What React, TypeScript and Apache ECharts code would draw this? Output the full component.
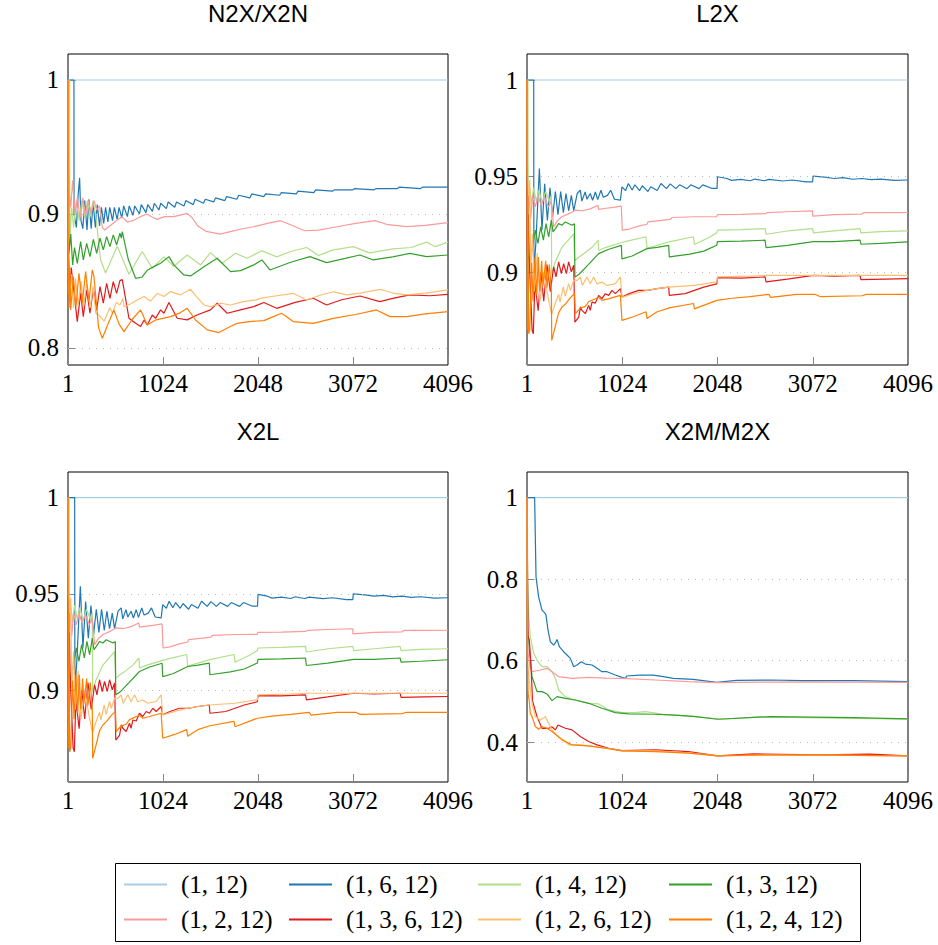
import React, { useEffect, useRef } from "react";
import * as echarts from "echarts";

// ---------- labels ----------
const SERIES_NAMES = ["(1, 12)", "(1, 6, 12)", "(1, 4, 12)", "(1, 3, 12)", "(1, 2, 12)", "(1, 3, 6, 12)", "(1, 2, 6, 12)", "(1, 2, 4, 12)"];
const COLORS = ["#a6cee3", "#1f78b4", "#b2df8a", "#33a02c", "#fb9a99", "#e31a1c", "#fdbf6f", "#ff7f00"];
const PANEL_TITLES = ["N2X/X2N", "L2X", "X2L", "X2M/M2X"];
const X_TICK_VALUES = [0, 1024, 2048, 3072, 4096];
const Y_TICKS_N2X = [0.8, 0.9, 1];
const Y_TICKS_L2X = [0.9, 0.95, 1];
const Y_TICKS_X2L = [0.9, 0.95, 1];
const Y_TICKS_X2M = [0.4, 0.6, 0.8, 1];

// ---------- N2X/X2N ----------
const n2x_1_12 = [[1, 1], [4096, 1]];
const n2x_1_6_12 = [[1,1],[64,1],[65,0.90],[90,0.89],[110,0.915],[125,0.927],[140,0.895],[160,0.889],[180,0.91],[205,0.888],[225,0.911],[250,0.889],[270,0.909],[295,0.89],[315,0.907],[340,0.891],[360,0.905],[385,0.893],[405,0.905],[430,0.894],[450,0.905],[480,0.895],[500,0.905],[530,0.896],[550,0.905],[580,0.897],[600,0.906],[640,0.898],[660,0.906],[700,0.899],[720,0.906],[770,0.9],[790,0.907],[840,0.901],[860,0.907],[910,0.902],[930,0.908],[980,0.903],[1000,0.908],[1060,0.904],[1080,0.909],[1150,0.905],[1170,0.909],[1250,0.906],[1270,0.91],[1350,0.907],[1370,0.911],[1460,0.908],[1480,0.911],[1570,0.909],[1590,0.912],[1690,0.91],[1710,0.913],[1820,0.911],[1840,0.914],[1960,0.912],[1980,0.915],[2110,0.913],[2130,0.915],[2280,0.914],[2300,0.916],[2460,0.915],[2480,0.917],[2650,0.916],[2670,0.918],[2850,0.917],[2870,0.918],[3070,0.918],[3090,0.919],[3300,0.918],[3320,0.919],[3550,0.919],[3570,0.92],[3800,0.919],[3820,0.92],[4096,0.92]];
const n2x_1_4_12 = [[1,1],[18,1],[20,0.88],[40,0.905],[60,0.89],[90,0.91],[120,0.895],[150,0.91],[180,0.897],[210,0.91],[240,0.898],[270,0.91],[298,0.9],[350,0.866],[405,0.856],[531,0.876],[657,0.855],[800,0.872],[908,0.8595],[1034,0.868],[1141,0.861],[1285,0.8694],[1430,0.862],[1536,0.8712],[1660,0.8632],[1806,0.8707],[1931,0.867],[2090,0.8725],[2250,0.868],[2400,0.872],[2572,0.875],[2700,0.869],[2850,0.873],[3075,0.8756],[3250,0.871],[3506,0.874],[3700,0.875],[3865,0.879],[3960,0.8756],[4096,0.879]];
const n2x_1_3_12 = [[1,1],[10,0.87],[30,0.885],[50,0.862],[70,0.875],[100,0.8632],[136,0.8794],[165,0.8657],[201,0.8781],[237,0.8682],[273,0.881],[309,0.8707],[345,0.8819],[381,0.8732],[416,0.8831],[452,0.8757],[488,0.8844],[524,0.8769],[560,0.8856],[575,0.882],[585,0.8869],[650,0.866],[729,0.852],[800,0.853],[854,0.858],[926,0.8607],[998,0.8632],[1088,0.8682],[1141,0.862],[1249,0.8545],[1321,0.8538],[1465,0.8607],[1608,0.867],[1752,0.857],[1860,0.8577],[2003,0.862],[2090,0.8657],[2177,0.8582],[2400,0.864],[2608,0.8682],[2787,0.8637],[3000,0.867],[3147,0.8694],[3290,0.8657],[3500,0.868],[3685,0.8706],[3865,0.8682],[4096,0.8694]];
const n2x_1_2_12 = [[1,1],[8,0.92],[30,0.905],[50,0.925],[75,0.9],[100,0.912],[130,0.897],[160,0.912],[190,0.899],[220,0.91],[250,0.9],[280,0.91],[310,0.903],[340,0.906],[370,0.89],[395,0.888],[450,0.891],[520,0.895],[580,0.898],[640,0.894],[700,0.895],[780,0.898],[850,0.9],[900,0.898],[960,0.896],[1040,0.898],[1140,0.898],[1200,0.899],[1285,0.9005],[1340,0.897],[1400,0.891],[1490,0.887],[1640,0.885],[1760,0.887],[1880,0.889],[2000,0.8905],[2150,0.893],[2290,0.895],[2400,0.892],[2550,0.8875],[2700,0.888],[2900,0.8905],[3100,0.893],[3310,0.895],[3450,0.892],[3650,0.8905],[3850,0.8915],[4096,0.8935]];
const n2x_1_3_6_12 = [[1,1],[5,0.87],[20,0.84],[35,0.86],[100,0.8197],[136,0.8408],[165,0.8234],[201,0.8433],[237,0.8259],[273,0.8446],[309,0.8284],[345,0.8458],[381,0.8334],[416,0.8483],[452,0.837],[488,0.8495],[524,0.8408],[560,0.8503],[585,0.851],[657,0.8222],[729,0.8184],[783,0.816],[820,0.8209],[855,0.8172],[908,0.8246],[945,0.8222],[998,0.8284],[1034,0.8259],[1088,0.8339],[1177,0.8222],[1285,0.821],[1390,0.8246],[1536,0.8284],[1608,0.8334],[1716,0.8259],[1860,0.8284],[2003,0.8309],[2111,0.8339],[2249,0.8296],[2450,0.834],[2644,0.8371],[2787,0.8321],[2950,0.836],[3147,0.8388],[3362,0.8346],[3500,0.837],[3685,0.8396],[3900,0.839],[4096,0.84]];
const n2x_1_2_6_12 = [[1,1],[5,0.86],[20,0.84],[40,0.855],[60,0.83],[80,0.852],[110,0.832],[140,0.85],[170,0.831],[200,0.848],[240,0.83],[270,0.846],[300,0.826],[340,0.824],[390,0.82],[420,0.825],[450,0.83],[480,0.826],[520,0.834],[560,0.832],[590,0.837],[603,0.831],[680,0.833],[750,0.836],[819,0.8384],[890,0.835],[962,0.8408],[1034,0.8384],[1106,0.8421],[1210,0.8396],[1321,0.8438],[1390,0.838],[1465,0.8321],[1540,0.8309],[1650,0.8334],[1750,0.8321],[1890,0.8346],[2030,0.8359],[2069,0.837],[2250,0.839],[2428,0.8408],[2572,0.8358],[2700,0.839],[2859,0.842],[3000,0.8396],[3150,0.841],[3362,0.8438],[3500,0.841],[3650,0.8396],[3850,0.841],[4096,0.8433]];
const n2x_1_2_4_12 = [[1,1],[3,0.84],[8,0.87],[12,0.83],[18,0.86],[29,0.8284],[57,0.8533],[86,0.8309],[118,0.8558],[154,0.8334],[190,0.857],[226,0.835],[262,0.8582],[280,0.8533],[330,0.815],[370,0.8073],[420,0.816],[495,0.8284],[550,0.818],[603,0.8122],[700,0.822],[783,0.8284],[854,0.8172],[950,0.821],[1106,0.8234],[1200,0.826],[1285,0.8296],[1375,0.8209],[1501,0.8135],[1626,0.8115],[1750,0.816],[1824,0.8184],[1950,0.8197],[2111,0.8204],[2200,0.823],[2302,0.8259],[2428,0.8197],[2644,0.8184],[2859,0.8221],[3100,0.825],[3326,0.8284],[3470,0.8234],[3650,0.8234],[3850,0.8254],[4096,0.8271]];

// ---------- L2X ----------
const l2x_1_12 = [[1, 1], [4096, 1]];
const l2x_1_6_12 = [[1,1],[72,1],[74,0.90],[95,0.915],[133,0.954],[161,0.922],[190,0.946],[219,0.927],[247,0.944],[276,0.929],[305,0.942],[333,0.93],[362,0.942],[391,0.931],[419,0.941],[448,0.932],[477,0.94],[502,0.932],[540,0.941],[573,0.9427],[590,0.937],[625,0.9418],[645,0.938],[680,0.941],[705,0.9375],[735,0.9418],[760,0.9378],[795,0.9427],[820,0.939],[865,0.94],[900,0.9427],[940,0.938],[1004,0.9375],[1021,0.9444],[1060,0.9425],[1090,0.9462],[1130,0.9428],[1160,0.9455],[1210,0.9425],[1240,0.945],[1300,0.942],[1330,0.9445],[1400,0.9425],[1440,0.9462],[1500,0.9435],[1540,0.946],[1600,0.9435],[1640,0.9455],[1720,0.9435],[1760,0.9455],[1850,0.9435],[1890,0.9455],[1990,0.9436],[2043,0.9436],[2048,0.9497],[2150,0.9488],[2200,0.9478],[2300,0.9483],[2400,0.9476],[2450,0.9485],[2550,0.9476],[2600,0.9483],[2750,0.9475],[2850,0.948],[3000,0.947],[3070,0.947],[3075,0.95],[3200,0.9495],[3300,0.9488],[3400,0.9492],[3500,0.9484],[3600,0.9488],[3700,0.9482],[3800,0.9485],[3950,0.9478],[4096,0.948]];
const l2x_1_4_12 = [[1,1],[10,1],[12,0.93],[30,0.944],[50,0.935],[70,0.944],[100,0.937],[130,0.943],[160,0.936],[200,0.942],[240,0.937],[262,0.94],[265,0.899],[300,0.905],[376,0.913],[502,0.92],[512,0.906],[560,0.908],[620,0.91],[700,0.913],[765,0.9167],[770,0.9115],[850,0.913],[1021,0.9155],[1100,0.9165],[1280,0.9185],[1290,0.9125],[1400,0.914],[1540,0.916],[1790,0.9185],[1800,0.9145],[1950,0.918],[2040,0.9205],[2048,0.9219],[2300,0.9222],[2560,0.9227],[2570,0.9198],[2800,0.9215],[3070,0.9227],[3080,0.9205],[3300,0.9215],[3580,0.9227],[3590,0.9205],[3800,0.9212],[4096,0.9215]];
const l2x_1_3_12 = [[1,1],[8,0.92],[20,0.905],[54,0.9115],[90,0.922],[118,0.915],[147,0.9236],[176,0.9167],[204,0.9253],[233,0.9184],[262,0.9271],[280,0.921],[305,0.9227],[340,0.9253],[376,0.9245],[412,0.9262],[484,0.9245],[510,0.9253],[515,0.8976],[560,0.899],[660,0.904],[770,0.9097],[880,0.912],[1014,0.914],[1021,0.907],[1130,0.9085],[1290,0.9123],[1400,0.913],[1523,0.914],[1530,0.908],[1750,0.9095],[1900,0.911],[2040,0.9141],[2048,0.916],[2300,0.9162],[2560,0.9167],[2570,0.9128],[2800,0.914],[3079,0.916],[3300,0.916],[3580,0.9167],[3590,0.9146],[3800,0.915],[4096,0.9158]];
const l2x_1_2_12 = [[1,1],[6,0.93],[20,0.94],[40,0.928],[60,0.94],[90,0.934],[120,0.94],[150,0.935],[190,0.939],[230,0.934],[260,0.937],[287,0.9236],[330,0.927],[380,0.929],[430,0.93],[484,0.9314],[520,0.9323],[600,0.932],[680,0.933],[763,0.9349],[770,0.9327],[850,0.9333],[930,0.9338],[1014,0.9344],[1024,0.9219],[1100,0.9225],[1200,0.924],[1290,0.925],[1300,0.9262],[1450,0.927],[1540,0.9275],[1560,0.9285],[1800,0.9289],[2040,0.929],[2048,0.93],[2300,0.9301],[2560,0.9305],[2580,0.931],[2800,0.9315],[3070,0.9319],[3072,0.9292],[3300,0.93],[3600,0.9303],[3620,0.931],[3850,0.931],[4096,0.9311]];
const l2x_1_3_6_12 = [[1,1],[4,0.91],[15,0.93],[25,0.905],[55,0.87],[68,0.868],[85,0.895],[120,0.88],[150,0.9],[180,0.885],[215,0.904],[250,0.89],[287,0.9028],[312,0.8976],[340,0.9054],[369,0.8993],[394,0.9045],[423,0.8993],[448,0.9054],[477,0.9002],[502,0.9037],[515,0.8741],[556,0.8767],[575,0.882],[591,0.8802],[627,0.8785],[663,0.8828],[680,0.8802],[699,0.8845],[735,0.884],[770,0.888],[806,0.8863],[842,0.8889],[878,0.888],[914,0.8906],[950,0.8889],[1004,0.8915],[1021,0.8872],[1100,0.8889],[1200,0.8906],[1300,0.8906],[1400,0.8915],[1523,0.8923],[1530,0.888],[1700,0.8889],[1900,0.8923],[2040,0.894],[2048,0.8972],[2300,0.897],[2560,0.8976],[2570,0.895],[2800,0.8965],[3079,0.8984],[3300,0.898],[3580,0.8984],[3590,0.8962],[3850,0.8965],[4096,0.8967]];
const l2x_1_2_6_12 = [[1,1],[5,0.95],[15,0.94],[30,0.948],[40,0.9],[60,0.92],[80,0.89],[110,0.91],[140,0.885],[180,0.9],[230,0.886],[265,0.878],[305,0.884],[340,0.8885],[355,0.8845],[390,0.8924],[410,0.8875],[448,0.8941],[466,0.8906],[502,0.8958],[540,0.8958],[573,0.8976],[595,0.8932],[645,0.8976],[680,0.894],[717,0.8976],[752,0.894],[806,0.8949],[860,0.8932],[950,0.8941],[1004,0.8976],[1021,0.887],[1150,0.889],[1290,0.8906],[1400,0.8915],[1523,0.8923],[1800,0.8932],[2040,0.895],[2048,0.8976],[2400,0.898],[2577,0.8984],[3000,0.8984],[4096,0.8984]];
const l2x_1_2_4_12 = [[1,1],[3,0.87],[10,0.94],[18,0.868],[30,0.87],[50,0.905],[65,0.885],[86,0.908],[105,0.888],[122,0.908],[137,0.89],[158,0.906],[172,0.893],[201,0.906],[215,0.892],[240,0.904],[262,0.89],[266,0.8646],[305,0.872],[340,0.879],[376,0.8819],[412,0.8835],[470,0.887],[512,0.889],[520,0.8785],[570,0.8813],[627,0.8823],[663,0.8847],[770,0.887],[806,0.8854],[880,0.8863],[1004,0.888],[1021,0.875],[1150,0.877],[1280,0.8795],[1290,0.876],[1400,0.8795],[1530,0.8815],[1790,0.8838],[1800,0.881],[2040,0.8854],[2200,0.8865],[2400,0.8874],[2600,0.8885],[2620,0.887],[2900,0.8885],[3100,0.8885],[3150,0.8874],[3600,0.8878],[3650,0.8885],[4096,0.8885]];

// ---------- X2L (read as the same curves as L2X) ----------
const x2l_1_12 = l2x_1_12;
const x2l_1_6_12 = l2x_1_6_12;
const x2l_1_4_12 = l2x_1_4_12;
const x2l_1_3_12 = l2x_1_3_12;
const x2l_1_2_12 = l2x_1_2_12;
const x2l_1_3_6_12 = l2x_1_3_6_12;
const x2l_1_2_6_12 = l2x_1_2_6_12;
const x2l_1_2_4_12 = l2x_1_2_4_12;

// ---------- X2M/M2X ----------
const x2m_1_12 = [[1, 1], [4096, 1]];
const x2m_1_6_12 = [[1,1],[82,1],[97,0.8055],[125,0.7565],[161,0.7238],[190,0.7172],[204,0.7115],[226,0.6748],[251,0.6462],[287,0.638],[305,0.6437],[323,0.6519],[348,0.634],[394,0.6217],[430,0.6135],[466,0.6053],[502,0.5849],[538,0.589],[584,0.5971],[627,0.5914],[699,0.589],[753,0.5808],[806,0.5726],[860,0.5726],[950,0.5645],[1021,0.5588],[1057,0.5563],[1072,0.562],[1215,0.5644],[1358,0.5644],[1466,0.5604],[1573,0.5563],[1788,0.5538],[2039,0.5465],[2254,0.5515],[2613,0.5522],[2971,0.5506],[3509,0.5506],[4096,0.5481]];
const x2m_1_4_12 = [[1,1],[6,0.8],[18,0.7074],[36,0.6584],[72,0.6176],[108,0.6012],[161,0.5849],[215,0.5849],[269,0.5726],[305,0.5563],[340,0.5277],[412,0.5114],[484,0.5048],[591,0.4991],[663,0.495],[770,0.4934],[878,0.4787],[1021,0.4721],[1150,0.472],[1272,0.4746],[1350,0.472],[1487,0.4664],[1738,0.464],[2097,0.4558],[2500,0.4615],[3000,0.46],[3500,0.458],[4096,0.4558]];
const x2m_1_3_12 = [[1,1],[8,0.68],[25,0.6257],[54,0.5604],[108,0.5236],[161,0.5236],[215,0.5179],[269,0.5016],[323,0.5114],[412,0.5073],[520,0.5032],[663,0.495],[806,0.4828],[950,0.4721],[1093,0.4689],[1380,0.4681],[1559,0.4664],[1810,0.4623],[2048,0.4558],[2613,0.4623],[3509,0.4599],[4096,0.4566]];
const x2m_1_2_12 = [[1,1],[4,0.75],[10,0.62],[20,0.605],[35,0.58],[60,0.5726],[100,0.575],[143,0.5767],[215,0.5808],[269,0.5726],[340,0.5604],[484,0.5563],[663,0.5588],[850,0.557],[1021,0.5563],[1380,0.5522],[1738,0.5481],[2048,0.5457],[2500,0.547],[3000,0.5475],[3500,0.547],[4096,0.5465]];
const x2m_1_3_6_12 = [[1,1],[10,0.66],[25,0.6503],[40,0.6],[60,0.5],[108,0.4623],[161,0.4337],[233,0.4337],[270,0.437],[305,0.4297],[333,0.4419],[412,0.4337],[484,0.4297],[573,0.4133],[663,0.4011],[753,0.3929],[878,0.3847],[1021,0.379],[1380,0.3806],[1738,0.3766],[2048,0.366],[2434,0.3708],[3150,0.3684],[3688,0.37],[4096,0.3659]];
const x2m_1_2_6_12 = [[1,1],[5,0.6],[20,0.56],[36,0.53],[54,0.495],[90,0.4623],[143,0.4542],[197,0.4623],[269,0.4297],[340,0.4133],[412,0.4011],[448,0.3929],[573,0.3929],[735,0.3888],[1021,0.379],[1380,0.378],[1738,0.3735],[2048,0.3665],[2600,0.3675],[3300,0.368],[4096,0.366]];
const x2m_1_2_4_12 = [[1,1],[3,0.62],[12,0.52],[25,0.5],[36,0.47],[54,0.4623],[90,0.4379],[125,0.4313],[161,0.4379],[215,0.4337],[269,0.4256],[376,0.4052],[484,0.3929],[663,0.3904],[842,0.3847],[1021,0.3782],[1380,0.3766],[1738,0.3725],[2048,0.366],[2500,0.3684],[3200,0.368],[4096,0.3659]];

const PANEL_SERIES = [
  [n2x_1_12, n2x_1_6_12, n2x_1_4_12, n2x_1_3_12, n2x_1_2_12, n2x_1_3_6_12, n2x_1_2_6_12, n2x_1_2_4_12],
  [l2x_1_12, l2x_1_6_12, l2x_1_4_12, l2x_1_3_12, l2x_1_2_12, l2x_1_3_6_12, l2x_1_2_6_12, l2x_1_2_4_12],
  [x2l_1_12, x2l_1_6_12, x2l_1_4_12, x2l_1_3_12, x2l_1_2_12, x2l_1_3_6_12, x2l_1_2_6_12, x2l_1_2_4_12],
  [x2m_1_12, x2m_1_6_12, x2m_1_4_12, x2m_1_3_12, x2m_1_2_12, x2m_1_3_6_12, x2m_1_2_6_12, x2m_1_2_4_12],
];
const PANEL_Y_TICKS = [Y_TICKS_N2X, Y_TICKS_L2X, Y_TICKS_X2L, Y_TICKS_X2M];

// ---------- layout ----------
const GRIDS = [
  { left: 68, top: 54, width: 380, height: 311 },
  { left: 527, top: 54, width: 381, height: 311 },
  { left: 68, top: 472, width: 380, height: 310 },
  { left: 527, top: 472, width: 381, height: 310 },
];
const Y_RANGES = [
  [0.7873, 1.0194],
  [0.8518, 1.01353],
  [0.8523, 1.0133],
  [0.3018, 1.0629],
];
const SERIF = "Liberation Serif";
const SANS = "Liberation Sans";
const LEGEND_COL_X = [124, 289, 478, 669];
const LEGEND_ROW_Y = [885, 920];

export default function App() {
  const ref = useRef<HTMLDivElement>(null);
  useEffect(() => {
    if (!ref.current) return;
    const chart = echarts.init(ref.current, undefined, { renderer: "svg" });

    const series: any[] = [];
    PANEL_SERIES.forEach((panel, p) => {
      panel.forEach((data, s) => {
        const item: any = {
          type: "line",
          name: SERIES_NAMES[s],
          xAxisIndex: p,
          yAxisIndex: p,
          data,
          showSymbol: false,
          symbol: "none",
          color: COLORS[s],
          lineStyle: { width: 1.2, color: COLORS[s] },
          itemStyle: { color: COLORS[s] },
          silent: true,
          z: 2 + s,
          clip: true,
        };
        if (s === 0) {
          item.markLine = {
            silent: true,
            symbol: ["none", "none"],
            label: { show: false },
            lineStyle: { type: [1, 6], color: "#bbbbbb", width: 1 },
            data: PANEL_Y_TICKS[p].filter((v) => v !== 1).map((v) => ({ yAxis: v })),
          };
        }
        series.push(item);
      });
    });

    const option: any = {
      animation: false,
      backgroundColor: "#ffffff",
      title: PANEL_TITLES.map((t, i) => ({
        text: t,
        left: GRIDS[i].left + GRIDS[i].width / 2,
        top: GRIDS[i].top - 41,
        textAlign: "center",
        textVerticalAlign: "middle",
        padding: 0,
        textStyle: { fontFamily: SANS, fontSize: 24, fontWeight: "normal", color: "#000" },
      })),
      grid: GRIDS.map((g) => ({
        ...g,
        show: true,
        borderColor: "#000",
        borderWidth: 1,
        backgroundColor: "transparent",
        containLabel: false,
      })),
      xAxis: GRIDS.map((_, i) => ({
        gridIndex: i,
        type: "value",
        min: X_TICK_VALUES[0],
        max: X_TICK_VALUES[X_TICK_VALUES.length - 1],
        interval: 1024,
        axisLine: { show: false },
        axisTick: { show: true, inside: true, length: 8, lineStyle: { color: "#888" } },
        axisLabel: {
          fontFamily: SERIF,
          fontSize: 25,
          color: "#000",
          margin: 18,
          verticalAlign: "middle",
          formatter: (v: number) => (v === 0 ? "1" : String(v)),
        },
        splitLine: { show: false },
      })),
      yAxis: GRIDS.map((_, i) => ({
        gridIndex: i,
        type: "value",
        min: Y_RANGES[i][0],
        max: Y_RANGES[i][1],
        axisLine: { show: false },
        axisTick: { show: true, inside: true, length: 8, lineStyle: { color: "#888" }, customValues: PANEL_Y_TICKS[i] },
        axisLabel: {
          fontFamily: SERIF,
          fontSize: 25,
          color: "#000",
          margin: 9,
          customValues: PANEL_Y_TICKS[i],
          formatter: (v: number) => (Math.abs(v - 1) < 1e-9 ? "1" : String(Math.round(v * 100) / 100)),
        },
        splitLine: { show: false },
      })),
      legend: SERIES_NAMES.map((name, i) => ({
        data: [name],
        left: LEGEND_COL_X[i % 4],
        top: LEGEND_ROW_Y[Math.floor(i / 4)] - 13,
        padding: 0,
        itemWidth: 43,
        itemHeight: 2,
        icon: "rect",
        selectedMode: false,
        itemStyle: { color: COLORS[i] },
        textStyle: { fontFamily: SERIF, fontSize: 25, color: "#000", padding: [0, 0, 0, 9] },
      })),
      graphic: [
        {
          type: "rect",
          shape: { x: 115.5, y: 863.5, width: 745, height: 78 },
          style: { fill: "none", stroke: "#000", lineWidth: 1 },
          silent: true,
        },
      ],
      series,
    };
    chart.setOption(option);
    return () => chart.dispose();
  }, []);
  return <div ref={ref} style={{ position: "absolute", left: 0, top: 0, width: 938, height: 945 }} />;
}
